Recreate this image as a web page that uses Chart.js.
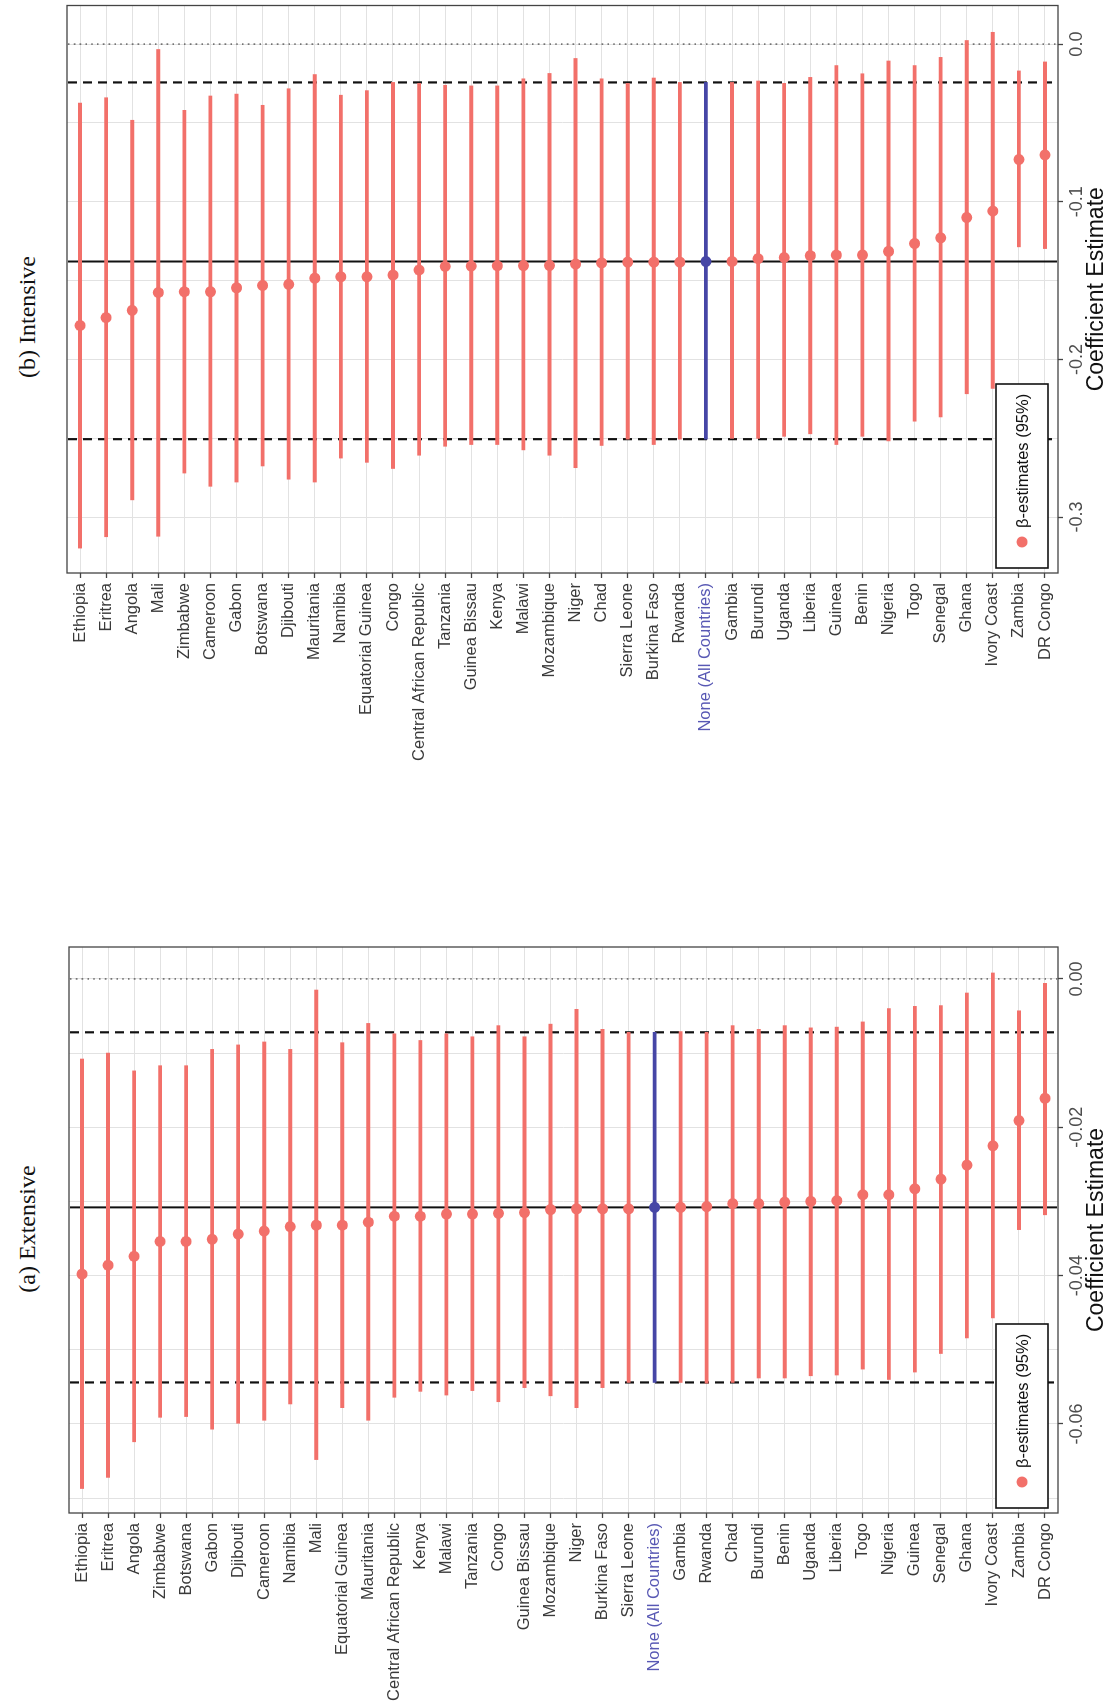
<!DOCTYPE html>
<html>
<head>
<meta charset="utf-8">
<title>Coefficient estimates, leave-one-country-out</title>
<script src="https://cdn.jsdelivr.net/npm/chart.js@4.4.1/dist/chart.umd.min.js"></script>
<style>
  html, body { margin: 0; padding: 0; background: #fff; }
  body { width: 1110px; height: 1702px; overflow: hidden; position: relative; }
  /* the figure is laid out landscape and turned a quarter turn */
  #figure { position: absolute; left: 0; top: 0; width: 1702px; height: 1110px;
            transform-origin: 0 0; transform: translate(0, 1702px) rotate(-90deg); }
  .caption { position: absolute; top: 12px; width: 568px; text-align: center;
             font-family: 'Liberation Serif', 'DejaVu Serif', serif; font-size: 24px;
             line-height: 30px; color: #111; }
  canvas { position: absolute; top: 0; }
</style>
</head>
<body>
<div id="figure">
  <div class="caption" style="left:189px">(a) Extensive</div>
  <canvas id="extensive" width="790" height="1110" style="left:0"></canvas>
  <div class="caption" style="left:1101px">(b) Intensive</div>
  <canvas id="intensive" width="762" height="1110" style="left:940px"></canvas>
</div>
<script>
// (a) extensive margin: estimate and 95% bounds with each country dropped
const countriesA = ['Ethiopia', 'Eritrea', 'Angola', 'Zimbabwe', 'Botswana', 'Gabon', 'Djibouti',
  'Cameroon', 'Namibia', 'Mali', 'Equatorial Guinea', 'Mauritania', 'Central African Republic',
  'Kenya', 'Malawi', 'Tanzania', 'Congo', 'Guinea Bissau', 'Mozambique', 'Niger', 'Burkina Faso',
  'Sierra Leone', 'None (All Countries)', 'Gambia', 'Rwanda', 'Chad', 'Burundi', 'Benin', 'Uganda',
  'Liberia', 'Togo', 'Nigeria', 'Guinea', 'Senegal', 'Ghana', 'Ivory Coast', 'Zambia', 'DR Congo'];
const estA = [-0.0398, -0.0386, -0.0374, -0.0354, -0.0354, -0.0351, -0.0344, -0.0340, -0.0334,
  -0.0332, -0.0332, -0.0328, -0.0320, -0.0320, -0.0317, -0.0317, -0.0316, -0.0315, -0.0311,
  -0.0310, -0.0310, -0.0310, -0.0308, -0.0308, -0.0307, -0.0303, -0.0303, -0.0301, -0.0300,
  -0.0299, -0.0291, -0.0291, -0.0283, -0.0270, -0.0251, -0.0225, -0.0191, -0.0161];
const lowA = [-0.0687, -0.0672, -0.0624, -0.0591, -0.0590, -0.0607, -0.0599, -0.0595, -0.0573,
  -0.0648, -0.0578, -0.0595, -0.0564, -0.0556, -0.0561, -0.0555, -0.0570, -0.0551, -0.0562,
  -0.0578, -0.0551, -0.0544, -0.0544, -0.0544, -0.0545, -0.0544, -0.0538, -0.0538, -0.0535,
  -0.0534, -0.0526, -0.0540, -0.0530, -0.0505, -0.0484, -0.0457, -0.0338, -0.0318];
const highA = [-0.0108, -0.0100, -0.0124, -0.0117, -0.0117, -0.0095, -0.0089, -0.0085, -0.0095,
  -0.0015, -0.0086, -0.0060, -0.0074, -0.0083, -0.0074, -0.0078, -0.0063, -0.0078, -0.0061,
  -0.0041, -0.0068, -0.0072, -0.0072, -0.0071, -0.0072, -0.0063, -0.0068, -0.0063, -0.0066,
  -0.0065, -0.0058, -0.0040, -0.0037, -0.0036, -0.0019, 0.0008, -0.0043, -0.0006];
const ticksA = [-0.06, -0.04, -0.02, 0];
const tickLabelsA = ['-0.06', '-0.04', '-0.02', '0.00'];
const minorA = [-0.07, -0.05, -0.03, -0.01];

// (b) intensive margin
const countriesB = ['Ethiopia', 'Eritrea', 'Angola', 'Mali', 'Zimbabwe', 'Cameroon', 'Gabon',
  'Botswana', 'Djibouti', 'Mauritania', 'Namibia', 'Equatorial Guinea', 'Congo',
  'Central African Republic', 'Tanzania', 'Guinea Bissau', 'Kenya', 'Malawi', 'Mozambique', 'Niger',
  'Chad', 'Sierra Leone', 'Burkina Faso', 'Rwanda', 'None (All Countries)', 'Gambia', 'Burundi',
  'Uganda', 'Liberia', 'Guinea', 'Benin', 'Nigeria', 'Togo', 'Senegal', 'Ghana', 'Ivory Coast',
  'Zambia', 'DR Congo'];
const estB = [-0.1785, -0.1735, -0.1689, -0.1576, -0.1571, -0.1571, -0.1546, -0.1531, -0.1524,
  -0.1485, -0.1476, -0.1476, -0.1465, -0.1433, -0.1410, -0.1408, -0.1406, -0.1405, -0.1404,
  -0.1395, -0.1388, -0.1383, -0.1383, -0.1383, -0.1379, -0.1379, -0.1361, -0.1354, -0.1342,
  -0.1338, -0.1338, -0.1315, -0.1265, -0.1229, -0.1100, -0.1059, -0.0732, -0.0703];
const lowB = [-0.3197, -0.3125, -0.2891, -0.3122, -0.2721, -0.2805, -0.2778, -0.2676, -0.2760,
  -0.2778, -0.2626, -0.2653, -0.2692, -0.2608, -0.2551, -0.2540, -0.2540, -0.2574, -0.2608,
  -0.2687, -0.2546, -0.2506, -0.2540, -0.2506, -0.2506, -0.2501, -0.2501, -0.2488, -0.2472,
  -0.2540, -0.2488, -0.2517, -0.2392, -0.2365, -0.2218, -0.2184, -0.1286, -0.1297];
const highB = [-0.0374, -0.0340, -0.0483, -0.0034, -0.0420, -0.0329, -0.0317, -0.0388, -0.0283,
  -0.0193, -0.0324, -0.0295, -0.0243, -0.0249, -0.0261, -0.0265, -0.0265, -0.0220, -0.0186,
  -0.0091, -0.0220, -0.0249, -0.0215, -0.0243, -0.0243, -0.0243, -0.0234, -0.0249, -0.0211,
  -0.0136, -0.0188, -0.0107, -0.0136, -0.0084, 0.0023, 0.0075, -0.0170, -0.0113];
const ticksB = [-0.3, -0.2, -0.1, 0];
const tickLabelsB = ['-0.3', '-0.2', '-0.1', '0.0'];
const minorB = [-0.25, -0.15, -0.05];

const RED = '#F2706A';
const BLUE = '#4646A6';
const BLUE_TEXT = '#5858B4';
const SANS = "'Liberation Sans', Arial, sans-serif";

function buildPanel(id, p) {
  const noneIdx = p.countries.indexOf('None (All Countries)');
  const colorAt = i => (i === noneIdx ? BLUE : RED);
  const findTick = v => p.ticks.findIndex(t => Math.abs(t - v) < 1e-9);

  // zero line, pooled estimate and pooled 95% band
  const refLines = {
    id: 'refLines',
    beforeDatasetsDraw(chart) {
      const { ctx, chartArea: a, scales: { x } } = chart;
      const vline = (v, color, width, dash) => {
        const px = x.getPixelForValue(v);
        ctx.save();
        ctx.beginPath();
        ctx.setLineDash(dash);
        ctx.strokeStyle = color;
        ctx.lineWidth = width;
        ctx.moveTo(px, a.top + 1);
        ctx.lineTo(px, a.bottom - 1);
        ctx.stroke();
        ctx.restore();
      };
      vline(0, '#6a6a6a', 1.6, [1.6, 4.2]);
      vline(p.low[noneIdx], '#111', 2.2, [9, 6]);
      vline(p.high[noneIdx], '#111', 2.2, [9, 6]);
      vline(p.est[noneIdx], '#111', 2, []);
    }
  };

  // panel border and the legend box
  const frame = {
    id: 'frame',
    afterDatasetsDraw(chart) {
      const { ctx, chartArea: a } = chart;
      const w = 184, h = 52;
      const lx = a.left + 5, ly = a.bottom - 10 - h;
      ctx.save();
      ctx.fillStyle = '#fff';
      ctx.fillRect(lx, ly, w, h);
      ctx.strokeStyle = '#111';
      ctx.lineWidth = 1.6;
      ctx.strokeRect(lx, ly, w, h);
      ctx.fillStyle = RED;
      ctx.beginPath();
      ctx.arc(lx + 26, ly + h / 2, 5.5, 0, Math.PI * 2);
      ctx.fill();
      ctx.fillStyle = '#111';
      ctx.font = '16.5px ' + SANS;
      ctx.textBaseline = 'middle';
      ctx.fillText('β-estimates (95%)', lx + 40, ly + h / 2 + 1);
      ctx.strokeStyle = '#444';
      ctx.lineWidth = 1.3;
      ctx.strokeRect(a.left, a.top, a.right - a.left, a.bottom - a.top);
      ctx.restore();
    }
  };

  new Chart(document.getElementById(id), {
    type: 'bar',
    data: {
      labels: p.countries,
      datasets: [
        {
          type: 'line',
          indexAxis: 'y',
          data: p.est,
          showLine: false,
          pointRadius: 5.5,
          pointBorderWidth: 0,
          pointBackgroundColor: p.est.map((_, i) => colorAt(i)),
          order: 0
        },
        {
          type: 'bar',
          indexAxis: 'y',
          data: p.low.map((lo, i) => [lo, p.high[i]]),
          backgroundColor: p.low.map((_, i) => colorAt(i)),
          borderWidth: 0,
          borderSkipped: false,
          barThickness: 3.2,
          order: 1
        }
      ]
    },
    options: {
      indexAxis: 'y',
      responsive: false,
      animation: false,
      devicePixelRatio: 1,
      layout: { padding: { top: p.padTop, right: p.padRight, bottom: 0, left: 0 } },
      plugins: { legend: { display: false }, tooltip: { enabled: false } },
      scales: {
        x: {
          type: 'linear',
          min: p.min,
          max: p.max,
          afterFit(scale) { scale.height = 52; },
          afterBuildTicks(scale) {
            scale.ticks = p.ticks.concat(p.minor).sort((a, b) => a - b).map(v => ({ value: v }));
          },
          border: { display: false },
          grid: {
            color: '#E2E2E2',
            lineWidth: 1,
            tickLength: 5,
            tickWidth: 1.3,
            tickColor: ctx => (findTick(ctx.tick.value) >= 0 ? '#444' : 'rgba(0,0,0,0)')
          },
          ticks: {
            autoSkip: false,
            maxRotation: 0,
            padding: 3,
            color: '#4D4D4D',
            font: { family: SANS, size: 18 },
            callback: v => {
              const k = findTick(v);
              return k >= 0 ? p.tickLabels[k] : '';
            }
          },
          title: {
            display: true,
            text: 'Coefficient Estimate',
            color: '#111',
            padding: 0,
            font: { family: SANS, size: 23 }
          }
        },
        y: {
          type: 'category',
          offset: true,
          afterFit(scale) { scale.width = 189; },
          border: { display: false },
          grid: {
            offset: false,
            color: '#E2E2E2',
            lineWidth: 1,
            tickLength: 5,
            tickWidth: 1.3,
            tickColor: '#444'
          },
          ticks: {
            autoSkip: false,
            padding: 5,
            color: ctx => (ctx.index === noneIdx ? BLUE_TEXT : '#3A3A3A'),
            font: { family: SANS, size: 16.5 }
          }
        }
      }
    },
    plugins: [refLines, frame]
  });
}

buildPanel('extensive', {
  countries: countriesA, est: estA, low: lowA, high: highA,
  ticks: ticksA, tickLabels: tickLabelsA, minor: minorA,
  min: -0.072, max: 0.0043, padTop: 69, padRight: 35
});

buildPanel('intensive', {
  countries: countriesB, est: estB, low: lowB, high: highB,
  ticks: ticksB, tickLabels: tickLabelsB, minor: minorB,
  min: -0.3355, max: 0.0245, padTop: 67, padRight: 5
});
</script>
</body>
</html>
